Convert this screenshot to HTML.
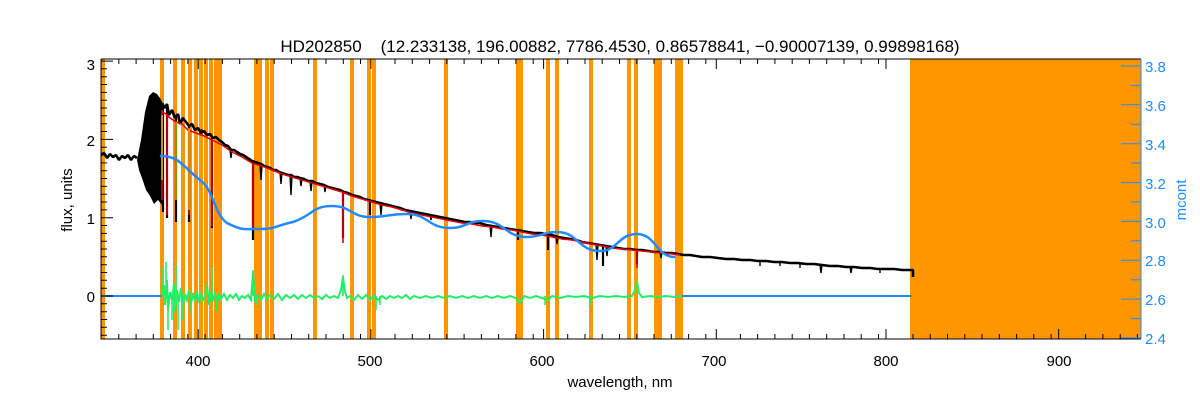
<!DOCTYPE html>
<html><head><meta charset="utf-8"><style>
body{margin:0;background:#fff;}
svg{display:block;font-family:"Liberation Sans",sans-serif;}
.t{white-space:pre;}
</style></head><body>
<svg width="1200" height="400" xmlns="http://www.w3.org/2000/svg">
<rect width="1200" height="400" fill="#fff"/>
<g fill="#ff9600">
<rect x="910" y="59" width="231" height="280"/>
<rect x="101" y="59" width="4" height="280"/>
<rect x="160" y="59" width="4" height="280"/><rect x="173" y="59" width="4" height="280"/><rect x="181" y="59" width="4" height="280"/><rect x="188" y="59" width="4" height="280"/><rect x="194" y="59" width="4" height="280"/><rect x="199" y="59" width="4" height="280"/><rect x="204" y="59" width="4" height="280"/><rect x="209" y="59" width="4" height="280"/><rect x="214" y="59" width="4" height="280"/><rect x="218" y="59" width="4" height="280"/>
<rect x="254" y="59" width="4" height="280"/><rect x="258" y="59" width="4" height="280"/><rect x="265" y="59" width="4" height="280"/><rect x="270" y="59" width="4" height="280"/><rect x="313" y="59" width="4" height="280"/><rect x="350" y="59" width="4" height="280"/><rect x="367" y="59" width="4" height="280"/><rect x="372" y="59" width="4" height="280"/><rect x="444" y="59" width="4" height="280"/>
<rect x="516" y="59" width="7" height="280"/><rect x="546" y="59" width="4" height="280"/><rect x="555" y="59" width="4" height="280"/><rect x="589" y="59" width="4" height="280"/><rect x="627" y="59" width="4" height="280"/><rect x="634" y="59" width="4" height="280"/><rect x="654" y="59" width="8" height="280"/><rect x="675" y="59" width="8" height="280"/>
</g>
<!-- black spectrum -->
<path d="M137,160 L141,140 145,112 149,96 153,92 157,94 160,98 162,102 162,205 158,200 154,204 150,196 146,190 142,178 139,170 Z" fill="#000"/>
<path fill="none" stroke="#000" stroke-width="2.6" stroke-linejoin="bevel" d="M101,155 L104,153 107,158 110,154 113,157 116,155 119,160 122,156 125,158 128,155 131,160 134,156 137,158
M162,103 L165,108 167,104 169,115 172,110 175,118 178,114 180,124 183,118 186,122 189,126 192,124 195,130 198,128 201,133 204,131 207,135 210,134 213,138 216,137 219,140 222,142 225,145 228,146 231,150 234,150 237,152 240,154 243,155 246,157 249,159 252,161 255,162 258,163 261,164 264,166 267,167 270,168 273,170 276,170 279,172 282,173 285,174 288,175 291,175 294,177 297,177 300,178 304,179 308,181 312,181 316,183 320,184 324,185 328,187 332,188 336,189 340,190 344,192 348,193 352,195 356,196 360,197 364,199 368,200 372,201 376,202 380,203 384,204 388,205 392,206 396,207 400,208 405,210 410,211 415,212 420,213 425,214 430,215 435,216 440,217 445,218 450,219 455,220 460,221 465,222 470,222 475,223 480,223 486,225 492,226 498,227 504,228 510,229 516,230 522,231 528,232 534,233 540,233 546,234 552,235 558,237 564,238 570,239 576,240 582,242 588,243 594,244 600,245 606,246 612,247 618,248 624,249 630,249 636,250 642,250 648,251 654,252 660,252 666,253 672,253 678,254 684,255 690,255 696,256 702,257 710,257 718,258 726,259 734,259 742,260 750,260 758,261 766,261 774,262 782,262 790,263 798,263 806,264 814,264 822,265 830,266 838,266 846,267 854,267 862,268 870,268 878,269 886,269 894,269 902,270 910,270 913,270 913,277"/>
<path fill="none" stroke="#000" stroke-width="1.4" d="M200,130 l1,2 l1,-3 M230,150l1,8l1,-8 M260,165l1,15l1,-15 M280,172l1,12l1,-12 M290,175l1,20l1,-20 M300,178l1,8l1,-8 M310,181l1,10 l1,-10 M324,185l1,7l1,-7 M380,203l1,12l1,-12 M410,211l1,8l1,-8 M430,215l1,5l1,-5 M490,225l1,12l1,-12 M556,236l1,8l1,-8 M596,244l1,16l1,-16 M606,246l1,10l1,-10 M660,252l1,6l1,-6 M820,265l1,8l1,-8 M850,267l1,6l1,-6 M760,261l0,5 M780,262l0,4 M800,263l0,5 M880,268l0,5"/>
<path fill="none" stroke="#000" stroke-width="2.2" d="M163,104V212 M167,106V218 M176,116V222 M189,126V222 M212,137V228 M253,161V240 M343,191V238 M370,200V215 M518,230V240 M548,234V250 M603,246V266 M637,250V264"/>
<!-- red model -->
<path fill="none" stroke="#e00000" stroke-width="1.5" d="M162,112 L166,114 170,118 176,122 182,124 188,130 196,133 204,136 212,140 222,145 232,152 242,157 252,163 262,166 272,170 282,174 292,177 302,180 312,183 322,186 332,189 342,192 352,196 362,199 372,202 382,205 392,207 402,210 412,213 422,215 432,217 442,219 452,221 462,223 472,224 482,226 492,227 502,229 512,230 522,232 532,234 542,235 552,237 562,239 572,240 582,242 592,244 602,246 612,248 622,249 632,250 642,251 652,252 662,253 672,254 680,255"/>
<path fill="none" stroke="#e00000" stroke-width="1.6" d="M162,110V200 M167,114V215 M189,130V215 M212,140V226 M253,163V230 M343,192V243 M637,250V268"/>
<path fill="none" stroke="#ffee00" stroke-width="1.2" d="M176,122V200 M189,128V210 M162,115V180"/>
<!-- green residuals -->
<path fill="none" stroke="#22ee66" stroke-width="2" d="M162,296 L164,285 165,305 167,280 168,310 170,292 172,300 174,284 175,312 177,290 179,302 181,288 183,306 185,294 187,300 189,290 191,304 193,293 195,301 197,292 199,303 201,294 203,300 205,296 207,285 209,305 211,292 213,300 215,294 217,302 219,295 221,299 224,294 227,300 230,295 233,298 236,294 239,300 242,296 245,298 248,295 251,300 253,272 255,302 258,295 261,300 264,294 267,299 270,295 274,299 278,294 282,300 286,295 290,298 294,295 298,299 302,295 306,298 310,295 314,298 318,296 322,299 326,295 330,298 334,296 338,298 341,290 343,277 345,292 347,298 350,296 354,300 358,295 362,299 366,295 370,300 374,295 378,300 382,296 386,299 390,296 394,298 398,296 402,298 406,295 410,299 414,296 420,298 426,296 432,298 438,296 444,298 450,296 456,298 462,296 468,298 474,296 480,298 486,296 492,298 498,296 504,298 510,296 516,298 520,303 524,296 530,298 536,296 542,298 548,300 552,296 560,298 568,296 576,297 584,296 592,298 600,296 608,297 616,296 624,297 632,296 635,290 637,282 639,293 642,297 650,296 658,297 666,296 674,297 682,296"/>
<path fill="none" stroke="#22ee66" stroke-width="1.6" d="M163,296V268 M166,296V262 M168,296V330 M172,296V320 M176,296V265 M178,296V330 M183,296V320 M190,296V312 M212,296V268 M216,296V312 M253,296V270 M256,296V305 M343,296V275 M376,296V310 M380,296V305 M545,296V305 M590,296V306"/>
<!-- blue -->
<path fill="none" stroke="#1e8cff" stroke-width="2" d="M101,296L162,296M682,296L912,296"/>
<path fill="none" stroke="#1e8cff" stroke-width="2.5" d="M160,156 C180,156 182,166 200,180 C214,190 214,214 227,223 C243,231 244,229 260,229 C276,229 278,225 293,222 C312,216 312,206 332,206 C351,206 351,217 370,217 C388,217 388,214 407,214 C428,214 428,228 450,228 C466,228 466,221 483,221 C505,221 505,237 527,237 C542,237 542,232 557,232 C578,232 578,251 600,251 C618,251 618,234 637,234 C656,234 656,257 675,257"/>
<!-- axes -->
<g stroke="#000" stroke-width="1" fill="none">
<path d="M101,59V339H1141M101,59H1141"/>
<path d="M118.8,339v-5M136.1,339v-5M153.3,339v-5M170.6,339v-5M187.9,339v-5M205.1,339v-5M222.4,339v-5M239.7,339v-5M256.9,339v-5M274.2,339v-5M291.5,339v-5M308.7,339v-5M326,339v-5M343.3,339v-5M360.5,339v-5M395,339v-5M412.3,339v-5M429.6,339v-5M446.8,339v-5M464.1,339v-5M481.4,339v-5M498.6,339v-5M515.9,339v-5M533.2,339v-5M567.7,339v-5M585,339v-5M602.2,339v-5M619.5,339v-5M636.8,339v-5M654,339v-5M671.3,339v-5M688.6,339v-5M705.8,339v-5M740.4,339v-5M757.6,339v-5M774.9,339v-5M792.2,339v-5M809.4,339v-5M826.7,339v-5M844,339v-5M861.2,339v-5M878.5,339v-5M913,339v-5M930.2,339v-5M947.5,339v-5M964.8,339v-5M982,339v-5M999.3,339v-5M1016.6,339v-5M1033.8,339v-5M1051.1,339v-5M1085.6,339v-5M1102.9,339v-5M1120.2,339v-5M1137.4,339v-5
M198.2,339v-10M370.9,339v-10M543.6,339v-10M716.3,339v-10M886,339v-10M1058.7,339v-10
M118.8,59v5M136.1,59v5M153.3,59v5M170.6,59v5M187.9,59v5M205.1,59v5M222.4,59v5M239.7,59v5M256.9,59v5M274.2,59v5M291.5,59v5M308.7,59v5M326,59v5M343.3,59v5M360.5,59v5M395,59v5M412.3,59v5M429.6,59v5M446.8,59v5M464.1,59v5M481.4,59v5M498.6,59v5M515.9,59v5M533.2,59v5M567.7,59v5M585,59v5M602.2,59v5M619.5,59v5M636.8,59v5M654,59v5M671.3,59v5M688.6,59v5M705.8,59v5M740.4,59v5M757.6,59v5M774.9,59v5M792.2,59v5M809.4,59v5M826.7,59v5M844,59v5M861.2,59v5M878.5,59v5
M198.2,59v10M370.9,59v10M543.6,59v10M716.3,59v10M886,59v10
M101,335.2h6M101,327.3h6M101,319.5h6M101,311.7h6M101,303.8h6M101,288.2h6M101,280.3h6M101,272.5h6M101,264.7h6M101,256.8h6M101,249h6M101,241.2h6M101,233.4h6M101,225.5h6M101,209.9h6M101,202h6M101,194.2h6M101,186.4h6M101,178.5h6M101,170.7h6M101,162.9h6M101,155h6M101,147.2h6M101,131.5h6M101,123.7h6M101,115.8h6M101,108h6M101,100.2h6M101,92.4h6M101,84.5h6M101,76.7h6M101,68.8h6
M101,296h12M101,217.7h12M101,139.4h12M101,61.1h12"/>
</g>
<g stroke="#1e8cff" stroke-width="1" fill="none">
<path d="M1141,59V339"/>
<path d="M1141,338h-20M1141,318.6h-10M1141,299.1h-20M1141,279.7h-10M1141,260.3h-20M1141,240.8h-10M1141,221.4h-20M1141,202h-10M1141,182.6h-20M1141,163.1h-10M1141,143.7h-20M1141,124.3h-10M1141,104.8h-20M1141,85.4h-10M1141,66h-20"/>
</g>
<g font-size="15" fill="#000" text-anchor="middle">
<text class="t" x="620" y="52" font-size="17">HD202850    (12.233138, 196.00882, 7786.4530, 0.86578841, −0.90007139, 0.99898168)</text>
<text x="198" y="366">400</text><text x="370" y="366">500</text><text x="542" y="366">600</text><text x="714" y="366">700</text><text x="886" y="366">800</text><text x="1059" y="366">900</text>
<text x="620" y="387">wavelength, nm</text>
</g>
<g font-size="15" fill="#000" text-anchor="end">
<text x="95" y="70">3</text><text x="95" y="146">2</text><text x="95" y="224">1</text><text x="95" y="302">0</text>
</g>
<text transform="translate(72,200) rotate(-90)" font-size="15" text-anchor="middle">flux, units</text>
<g font-size="15" fill="#1e8cff">
<text x="1145" y="72">3.8</text><text x="1145" y="111">3.6</text><text x="1145" y="150">3.4</text><text x="1145" y="189">3.2</text><text x="1145" y="228">3.0</text><text x="1145" y="266">2.8</text><text x="1145" y="305">2.6</text><text x="1145" y="344">2.4</text>
</g>
<text transform="translate(1186,200) rotate(-90)" font-size="15" fill="#1e8cff" text-anchor="middle">mcont</text>
</svg>
</body></html>
